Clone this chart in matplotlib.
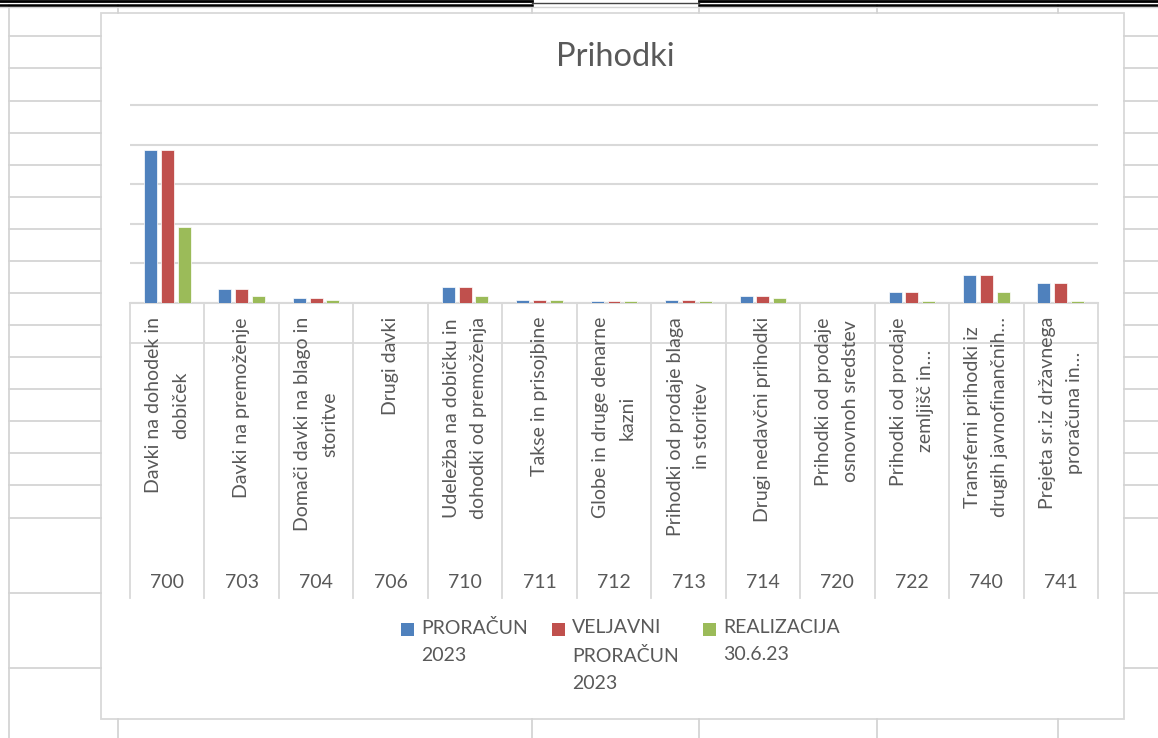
import numpy as np
import matplotlib
matplotlib.use('Agg')
import matplotlib.pyplot as plt
from matplotlib.patches import Rectangle

plt.rcParams['font.family'] = ['Lato', 'DejaVu Sans']

W, H = 1158, 738

codes = ['700', '703', '704', '706', '710', '711', '712', '713', '714', '720', '722', '740', '741']
names = [
    'Davki na dohodek in\ndobiček',
    'Davki na premoženje',
    'Domači davki na blago in\nstoritve',
    'Drugi davki',
    'Udeležba na dobičku in\ndohodki od premoženja',
    'Takse in prisojbine',
    'Globe in druge denarne\nkazni',
    'Prihodki od prodaje blaga\nin storitev',
    'Drugi nedavčni prihodki',
    'Prihodki od prodaje\nosnovnoh sredstev',
    'Prihodki od prodaje\nzemljišč in…',
    'Transferni prihodki iz\ndrugih javnofinančnih…',
    'Prejeta sr.iz državnega\nproračuna in…',
]
series = ['PRORAČUN\n2023', 'VELJAVNI\nPRORAČUN\n2023', 'REALIZACIJA\n30.6.23']
proracun = [19300000, 1750000, 600000, 0, 2050000, 350000, 300000, 320000, 900000, 0, 1350000, 3500000, 2500000]
veljavni = [19300000, 1750000, 600000, 0, 2050000, 350000, 300000, 320000, 900000, 0, 1350000, 3500000, 2500000]
realizacija = [9600000, 850000, 350000, 40000, 900000, 330000, 280000, 300000, 650000, 0, 300000, 1350000, 300000]
colors = ['#4F81BD', '#C0504D', '#9BBB59']

line_col = '#d9d9d9'
txt_col = '#595959'

fig = plt.figure(figsize=(W / 100, H / 100), dpi=100)

# the spreadsheet behind the chart, drawn in pixel units
bg = fig.add_axes([0, 0, 1, 1])
bg.set_xlim(0, W)
bg.set_ylim(H, 0)
bg.axis('off')

rows = [36, 68, 101, 133, 165, 197, 229, 261, 293, 325, 357, 389, 421, 453, 485, 518, 593, 668]
for y in rows:
    bg.plot([9, 101], [y, y], color='#d4d4d4', lw=1.3)
    bg.plot([1124, W], [y, y], color='#d4d4d4', lw=1.3)
cols = [118, 532, 699, 877, 1058]
for x in cols:
    bg.plot([x, x], [5, 13], color='#d4d4d4', lw=1.3)
    bg.plot([x, x], [719, H], color='#d4d4d4', lw=1.3)
bg.plot([9, 9], [5, H], color='#d4d4d4', lw=1.3)
bg.plot([0, W], [6.5, 6.5], color='#d4d4d4', lw=1.0)

# black double border along the top
for a, b in [(0, 532), (699, W)]:
    bg.plot([a, b], [1.2, 1.2], color='black', lw=2.0, clip_on=False)
    bg.plot([a, b], [4.6, 4.6], color='black', lw=1.8, clip_on=False)
bg.plot([532, 699], [3.2, 3.2], color='#444444', lw=1.0)

# chart area
bg.add_patch(Rectangle((101, 13), 1023, 706, facecolor='white', edgecolor=line_col, lw=1.3))
bg.text(615, 57, 'Prihodki', ha='center', va='center', fontsize=23.5, color=txt_col)

# legend
legend_x = [401, 552, 703]
for lx, lab, c in zip(legend_x, series, colors):
    bg.add_patch(Rectangle((lx, 623), 13, 13, facecolor=c, edgecolor='none'))
    bg.text(lx + 20, 619, lab, ha='left', va='top', fontsize=14, color=txt_col, linespacing=1.72)

# bars
n = len(codes)
x = np.arange(n)
ax = fig.add_axes([130 / W, 1 - 303 / H, 968 / W, 200.5 / H])
ax.patch.set_alpha(0)
for i, (vals, c) in enumerate(zip([proracun, veljavni, realizacija], colors)):
    ax.bar(x + (i - 1) * 0.2255, vals, width=0.1745, color=c, edgecolor='white', lw=0.5, zorder=3)
ax.set_xlim(-0.5, n - 0.5)
ax.set_ylim(0, 25300000)
ax.set_yticks(np.arange(0, 25000001, 5000000))
ax.yaxis.grid(True, color=line_col, lw=1.5)
ax.set_axisbelow(True)
ax.tick_params(left=False, labelleft=False, bottom=False, labelbottom=False)
for s in ['top', 'right', 'left']:
    ax.spines[s].set_visible(False)
ax.spines['bottom'].set_color(line_col)
ax.spines['bottom'].set_linewidth(1.5)

# two-level category labels under the axis
ax2 = fig.add_axes([130 / W, 1 - 598 / H, 968 / W, 295 / H])
ax2.set_xlim(-0.5, n - 0.5)
ax2.set_ylim(598, 303)
ax2.axis('off')
for b in np.arange(-0.5, n):
    ax2.plot([b, b], [303, 598], color=line_col, lw=1.3, clip_on=False)
ax2.plot([-0.5, n - 0.5], [343, 343], color=line_col, lw=1.3, clip_on=False)
for i in range(n):
    ax2.text(i, 583, codes[i], ha='center', va='center', fontsize=14, color=txt_col)
    ax2.text(i, 317, names[i], rotation=90, ha='center', va='top', multialignment='center',
             fontsize=14, color=txt_col, linespacing=1.7)

plt.savefig('out.png', dpi=100)
